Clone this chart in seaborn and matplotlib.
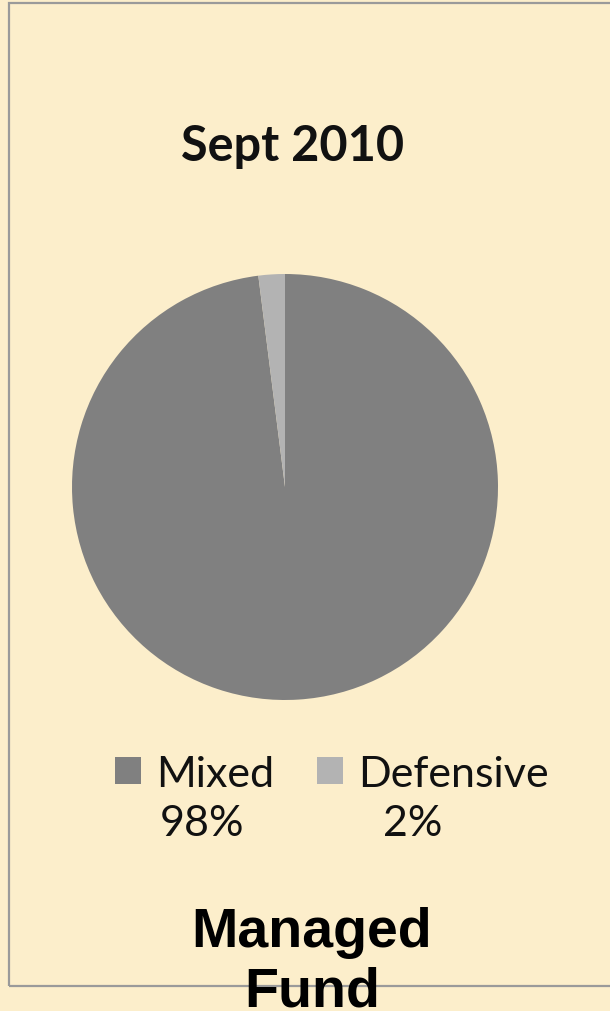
import matplotlib
matplotlib.use("Agg")
import matplotlib.pyplot as plt
import matplotlib.patches as mpatches
import seaborn as sns

# Portfolio split of the managed fund
categories = ["Mixed", "Defensive"]
shares = [98, 2]
slice_colors = ["#808080", "#B3B3B3"]
title = "Sept 2010"
caption = "Managed\nFund"

sns.set_theme(style="white")
plt.rcParams["font.family"] = ["Lato", "DejaVu Sans"]

BG = "#FCEECB"
W, H = 610, 1012
fig = plt.figure(figsize=(W / 100, H / 100), dpi=100, facecolor=BG)

# outer frame
frame = mpatches.Rectangle((9 / W, 1 - 987 / H), 1.0, (987 - 4) / H,
                           transform=fig.transFigure, fill=False,
                           edgecolor="#9A9A9A", linewidth=1.6, zorder=0)
fig.patches.append(frame)

# pie
ax = fig.add_axes([72 / W, 1 - 701 / H, 426 / W, 426 / H])
ax.set_facecolor("none")
wedges, _ = ax.pie(shares, colors=slice_colors, startangle=90,
                   counterclock=False, radius=1.0,
                   wedgeprops=dict(linewidth=0))
ax.set_xlim(-1, 1)
ax.set_ylim(-1, 1)
ax.set_aspect("equal")
ax.axis("off")

fig.text(293 / W, 1 - 147 / H, title, ha="center", va="center",
         fontsize=35, fontweight="bold", color="#111111")

# legend with percentages under the names
leg = fig.legend(wedges, categories, ncol=2, frameon=False,
                 loc="upper left", bbox_to_anchor=(76 / W, 1 - 717 / H),
                 fontsize=31, handlelength=0.605, handleheight=0.605,
                 handletextpad=0.35, columnspacing=1.0, labelcolor="#111111")
pct_x = [160, 383]
for v, x in zip(shares, pct_x):
    fig.text(x / W, 1 - 824 / H, f"{v}%", ha="left", va="center",
             fontsize=31, color="#111111")

fig.text(312 / W, 1 - 963 / H, caption, ha="center", va="center",
         fontsize=40, fontweight="bold", family=["Liberation Sans"],
         linespacing=1.18, color="black")

fig.savefig("out.png", dpi=100, facecolor=BG)
